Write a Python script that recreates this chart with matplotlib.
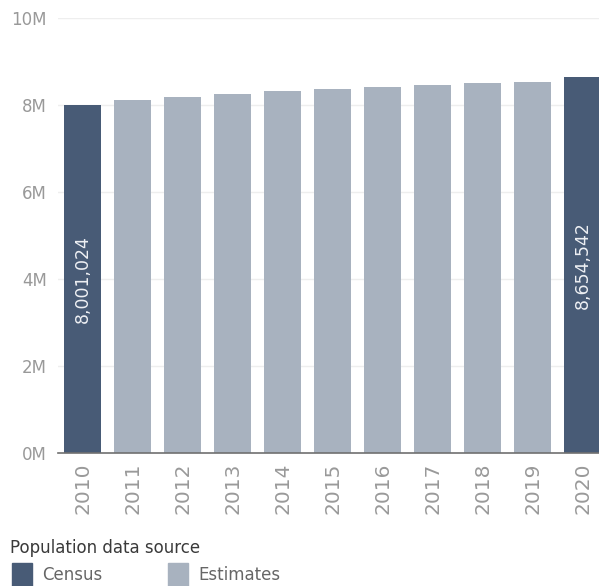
import matplotlib
matplotlib.use("Agg")
import numpy as np
from matplotlib import pyplot as plt
from matplotlib.patches import Rectangle
from matplotlib.ticker import FuncFormatter

years = ["2010", "2011", "2012", "2013", "2014", "2015", "2016", "2017", "2018", "2019", "2020"]
population = [8001024, 8106000, 8188000, 8259000, 8314000, 8365000, 8411000, 8465000, 8501000, 8535519, 8654542]
source = ["Census", "Estimates", "Estimates", "Estimates", "Estimates", "Estimates",
          "Estimates", "Estimates", "Estimates", "Estimates", "Census"]
colors = {"Census": "#485b76", "Estimates": "#a8b2bf"}

plt.rcParams['font.family'] = ['DejaVu Sans']

fig = plt.figure(figsize=(5.99, 5.86), dpi=100)
ax = fig.add_axes([58 / 599, 1 - 453 / 586, 1 - 58 / 599, (453 - 18) / 586])

x = np.arange(len(years))
bars = ax.bar(x, population, width=0.74, color=[colors[s] for s in source], zorder=2)

# label the census bars in the middle of the bar
for i, s in enumerate(source):
    if s == "Census":
        ax.text(x[i], population[i] / 2, f"{population[i]:,}", rotation=90, ha='center', va='center',
                color='#eef0f4', fontsize=12.5)

ax.set_ylim(0, 10e6)
ax.set_xlim(-0.49, 10.33)
ax.set_yticks(np.arange(0, 10.1e6, 2e6))
ax.yaxis.set_major_formatter(FuncFormatter(lambda v, p: f"{v / 1e6:.0f}M"))
ax.set_xticks(x)
ax.set_xticklabels(years, rotation=90)
ax.tick_params(axis='both', length=0, colors='#999999')
ax.tick_params(axis='y', pad=8, labelsize=12)
ax.tick_params(axis='x', pad=7, labelsize=14.5)
ax.grid(axis='y', color='#eeeeee', linewidth=1, zorder=0)
for side in ['top', 'right', 'left']:
    ax.spines[side].set_visible(False)
ax.spines['bottom'].set_color('#707070')
ax.spines['bottom'].set_linewidth(1.2)
ax.spines['bottom'].set_zorder(3)

# legend
fig.text(10 / 599, 1 - 548 / 586, "Population data source", fontsize=12, color='#3a3a3a',
         va='center', ha='left')
legend_items = [("Census", 12), ("Estimates", 168)]
for label, px in legend_items:
    fig.patches.append(Rectangle((px / 599, 1 - 586 / 586), 20 / 599, 23 / 586,
                                 transform=fig.transFigure, color=colors[label]))
    fig.text((px + 30) / 599, 1 - 575 / 586, label, fontsize=12, color='#666666',
             va='center', ha='left')

fig.savefig("out.png", dpi=100)
